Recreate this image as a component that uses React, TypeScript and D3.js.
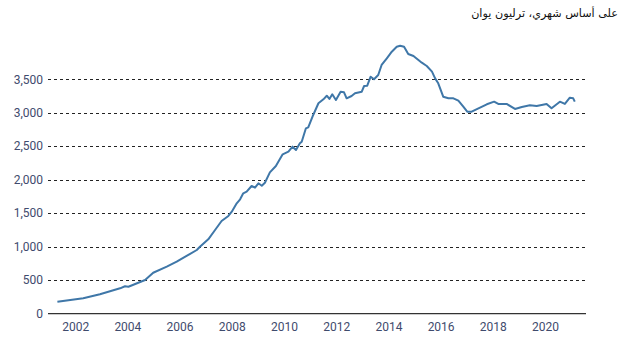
import React from 'react';
import * as d3 from 'd3';

// decimal years and values (trillion yuan)
const years = [
  2001.3, 2002.29, 2002.93, 2003.7, 2003.89, 2004.02, 2004.66, 2004.97, 2005.49, 2005.87,
  2006.25, 2006.64, 2006.76, 2007.08, 2007.34, 2007.59, 2007.85, 2007.98, 2008.17, 2008.3,
  2008.42, 2008.55, 2008.74, 2008.87, 2009.0, 2009.13, 2009.25, 2009.44, 2009.67, 2009.93,
  2010.15, 2010.31, 2010.44, 2010.59, 2010.66, 2010.82, 2010.91, 2011.1, 2011.3, 2011.49,
  2011.62, 2011.72, 2011.83, 2011.97, 2012.15, 2012.28, 2012.38, 2012.57, 2012.7, 2012.96,
  2013.05, 2013.17, 2013.3, 2013.43, 2013.59, 2013.72, 2013.92, 2014.11, 2014.3, 2014.43,
  2014.58, 2014.74, 2014.94, 2015.13, 2015.26, 2015.45, 2015.65, 2015.77, 2015.89, 2016.08,
  2016.28, 2016.47, 2016.66, 2016.85, 2017.0, 2017.17, 2017.43, 2017.75, 2018.03, 2018.19,
  2018.51, 2018.83, 2019.09, 2019.4, 2019.66, 2020.04, 2020.23, 2020.55, 2020.74, 2020.93,
  2021.06, 2021.12,
];
const values = [
  179, 230, 290, 379, 410, 403, 503, 612, 702, 776,
  862, 951, 1000, 1111, 1250, 1384, 1459, 1523, 1648, 1708,
  1798, 1822, 1907, 1882, 1947, 1911, 1956, 2111, 2205, 2380,
  2419, 2494, 2444, 2544, 2568, 2768, 2783, 2967, 3142, 3201,
  3255, 3206, 3276, 3191, 3315, 3306, 3216, 3251, 3291, 3315,
  3400, 3405, 3539, 3500, 3564, 3714, 3814, 3912, 3987, 4002,
  3987, 3878, 3848, 3788, 3748, 3699, 3614, 3514, 3440, 3240,
  3216, 3216, 3181, 3091, 3016, 3016, 3067, 3127, 3166, 3132,
  3132, 3057, 3087, 3112, 3102, 3132, 3067, 3166, 3132, 3226,
  3216, 3166,
];
const yTicks = [0, 500, 1000, 1500, 2000, 2500, 3000, 3500];
const xTicks = [2002, 2004, 2006, 2008, 2010, 2012, 2014, 2016, 2018, 2020];
const title = 'على أساس شهري، ترليون يوان';

const W = 627;
const H = 354;

export default function App() {
  const x = d3.scaleLinear().domain([2000.94, 2021.55]).range([48, 586]);
  const y = d3.scaleLinear().domain([0, 3500]).range([313.7, 79.3]);
  const pts: [number, number][] = years.map((t, i) => [t, values[i]]);
  const path = d3
    .line<[number, number]>()
    .x((d) => x(d[0]))
    .y((d) => y(d[1]))(pts);

  const tickColor = '#3f4b6d';
  return (
    <svg
      width={W}
      height={H}
      style={{ position: 'absolute', left: 0, top: 0, background: '#fff' }}
    >
      <text
        x={618}
        y={17}
        textAnchor="end"
        fontFamily="'DejaVu Sans', sans-serif"
        fontSize={11.2}
        fill="#111"
      >
        {title}
      </text>
      {yTicks.map((t) => (
        <g key={t}>
          {t > 0 && (
            <line
              x1={48}
              x2={586}
              y1={Math.round(y(t)) + 0.5}
              y2={Math.round(y(t)) + 0.5}
              stroke="#222"
              strokeWidth={1}
              strokeDasharray="3,3"
            />
          )}
          <text
            x={43}
            y={y(t)}
            dy="0.35em"
            textAnchor="end"
            fontFamily="Roboto, sans-serif"
            fontSize={12}
            fill={tickColor}
          >
            {d3.format(',')(t)}
          </text>
        </g>
      ))}
      <line x1={48} x2={586} y1={y(0)} y2={y(0)} stroke="#333" strokeWidth={1.2} />
      {xTicks.map((t) => (
        <text
          key={t}
          x={x(t)}
          y={331}
          textAnchor="middle"
          fontFamily="Roboto, sans-serif"
          fontSize={12}
          fill={tickColor}
        >
          {t}
        </text>
      ))}
      <path d={path || ''} fill="none" stroke="#3f77a8" strokeWidth={2} strokeLinejoin="round" />
    </svg>
  );
}
